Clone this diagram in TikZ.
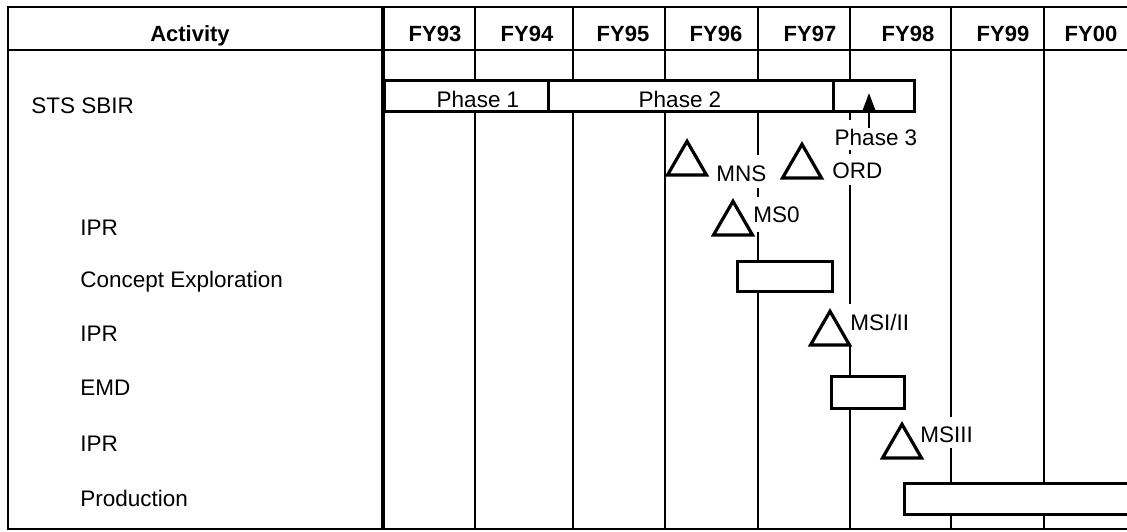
\documentclass[tikz,border=0pt]{standalone}
\usepackage{fontspec}
\setmainfont{Liberation Sans}
\usetikzlibrary{arrows.meta,shapes.geometric}
\begin{document}
\begin{tikzpicture}[x=1pt,y=-1pt,line width=2.8pt,
  lbl/.style={font=\fontsize{22.5}{22.5}\selectfont,inner sep=0pt,text height=16pt,text depth=0pt},
  hdr/.style={lbl,font=\fontsize{22}{22}\selectfont\bfseries},
  barbox/.style={draw,rectangle,inner sep=0pt,anchor=north west},
  tri/.style={draw,line width=3.2pt,regular polygon,regular polygon sides=3,minimum size=45pt,inner sep=0pt,outer sep=0pt,anchor=south}]
\useasboundingbox (0,0) rectangle (1127,531);
\clip (0,0) rectangle (1127,531);
% column coordinates
\coordinate (cA) at (383,0);
\coordinate (c94) at (475,0);
\coordinate (c95) at (573,0);
\coordinate (c96) at (665,0);
\coordinate (c97) at (758,0);
\coordinate (c98) at (850,0);
\coordinate (c99) at (951,0);
\coordinate (c00) at (1044,0);
% frame
\draw (1135,7) -- (8,7) -- (8,529) -- (1135,529);
\draw (8,50) -- (1135,50);
\draw[line width=3.2pt] (383,7) -- (383,529);
% header texts
\node[hdr] (hact) at (190,33) {Activity};
\node[hdr] (h93) at (435,33) {FY93};
\node[hdr] (h94) at (527,33) {FY94};
\node[hdr] (h95) at (623,33) {FY95};
\node[hdr] (h96) at (716,33) {FY96};
\node[hdr] (h97) at (810,33) {FY97};
\node[hdr] (h98) at (908,33) {FY98};
\node[hdr] (h99) at (1003,33) {FY99};
\node[hdr] (h00) at (1091,33) {FY00};
% row labels
\node[lbl,anchor=west] (rsts) at (30,105) {STS SBIR};
\node[lbl,anchor=west] (ripr1) at (79,227) {IPR};
\node[lbl,anchor=west] (rce) at (79,279) {Concept Exploration};
\node[lbl,anchor=west] (ripr2) at (79,333) {IPR};
\node[lbl,anchor=west] (remd) at (79,387) {EMD};
\node[lbl,anchor=west] (ripr3) at (79,443) {IPR};
\node[lbl,anchor=west] (rprod) at (79,498) {Production};
% phase bar
\node[barbox,minimum width=164pt,minimum height=31pt] (ph1) at (383,79) {};
\node[barbox,minimum width=285pt,minimum height=31pt] (ph2) at (547,79) {};
\node[barbox,minimum width=81pt,minimum height=31pt] (ph3) at (832,79) {};
\node[lbl] (tph1) at (478,99) {Phase 1};
\node[lbl] (tph2) at (680,99) {Phase 2};
\node[lbl] (tph3) at (876,137) {Phase 3};
\coordinate (a3) at (869,93);
\draw[-{Triangle[length=17pt,width=12pt]},line width=2.4pt] (tph3.north -| a3) -- (a3);
% activity boxes
\node[barbox,minimum width=95pt,minimum height=30pt] (ce) at (736,260) {};
\node[barbox,minimum width=73pt,minimum height=32pt] (emd) at (830,375) {};
\node[barbox,minimum width=240pt,minimum height=31pt] (prod) at (903,482) {};
% milestones
\node[tri] (mns) at (687,175) {};
\node[tri] (ord) at (802,178) {};
\node[tri] (ms0) at (733,235) {};
\node[tri] (ms12) at (830,345) {};
\node[tri] (ms3) at (902,458) {};
\node[lbl,anchor=west] (tmns) at (715,173) {MNS};
\node[lbl,anchor=west] (tord) at (831,170) {ORD};
\node[lbl,anchor=west] (tms0) at (752,214) {MS0};
\node[lbl,anchor=west] (tms12) at (849,322) {MSI/II};
\node[lbl,anchor=west] (tms3) at (919,434) {MSIII};
% header and first-row column lines
\foreach \c in {c94,c95,c96,c97,c98} {\draw (\c |- 0,7) -- (\c |- ph1.north);}
% column lines below phase bar
\foreach \c in {c94,c95,c96} {\draw (\c |- ph1.south) -- (\c |- 0,529);}
\draw (c97 |- ph2.south) -- (c97 |- 0,155);
\draw (c97 |- 0,188) -- (c97 |- 0,197);
\draw (c97 |- 0,232) -- (c97 |- ce.north);
\draw (c97 |- ce.south) -- (c97 |- 0,529);
\draw (c98 |- ph2.south) -- (c98 |- 0,120);
\draw (c98 |- 0,150) -- (c98 |- 0,154);
\draw (c98 |- 0,185) -- (c98 |- 0,304);
\draw (c98 |- ms12.south) -- (c98 |- emd.north);
\draw (c98 |- emd.south) -- (c98 |- 0,529);
\draw (c99 |- 0,7) -- (c99 |- 0,417);
\draw (c99 |- 0,448) -- (c99 |- prod.north);
\draw (c99 |- prod.south) -- (c99 |- 0,529);
\draw (c00 |- 0,7) -- (c00 |- prod.north);
\draw (c00 |- prod.south) -- (c00 |- 0,529);
\end{tikzpicture}
\end{document}
